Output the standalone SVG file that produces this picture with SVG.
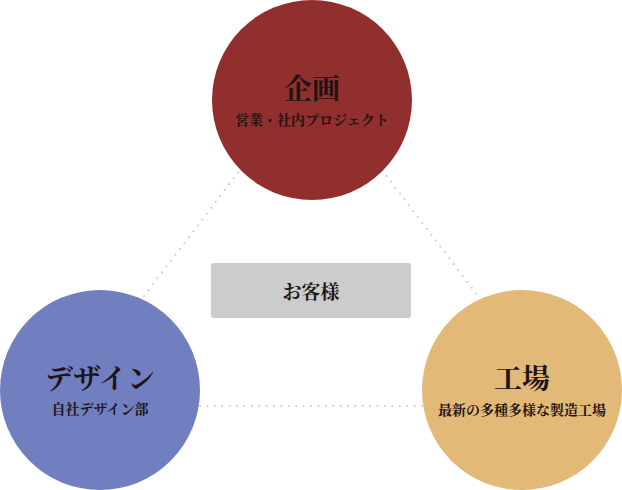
<svg xmlns="http://www.w3.org/2000/svg" width="622" height="490" viewBox="0 0 622 490">
<style>
.dot{stroke:#cfcfcf;stroke-width:2.2;stroke-linecap:round;stroke-dasharray:0 7.4;fill:none}
.t{font-family:"Noto Serif CJK JP","Noto Sans CJK JP",serif;font-weight:bold;fill:#1e1414;text-anchor:middle}
.h{font-size:28px}
.s{font-size:14px}
</style>
<rect width="622" height="490" fill="#ffffff"/>
<g id="connectors">
<line class="dot" x1="144" y1="296" x2="240" y2="170"/>
<line class="dot" x1="382" y1="170" x2="478" y2="296"/>
<line class="dot" x1="200" y1="406" x2="424" y2="406"/>
</g>
<g id="kikaku">
<circle cx="312" cy="100" r="100" fill="#912e2e"/>
<text class="t h" x="312" y="99">企画</text>
<text class="t s" x="312" y="125">営業・社内プロジェクト</text>
</g>
<g id="design">
<circle cx="100" cy="390" r="100" fill="#717fc0"/>
<text class="t h" x="100" y="389">デザイン</text>
<text class="t s" x="100" y="414">自社デザイン部</text>
</g>
<g id="koujou">
<circle cx="522" cy="390" r="100" fill="#e3b978"/>
<text class="t h" x="522" y="389">工場</text>
<text class="t s" x="522" y="415">最新の多種多様な製造工場</text>
</g>
<g id="okyakusama">
<rect x="211" y="263" width="200" height="55" rx="3" fill="#cccccc"/>
<text class="t" x="311" y="299" font-size="19">お客様</text>
</g>
</svg>
